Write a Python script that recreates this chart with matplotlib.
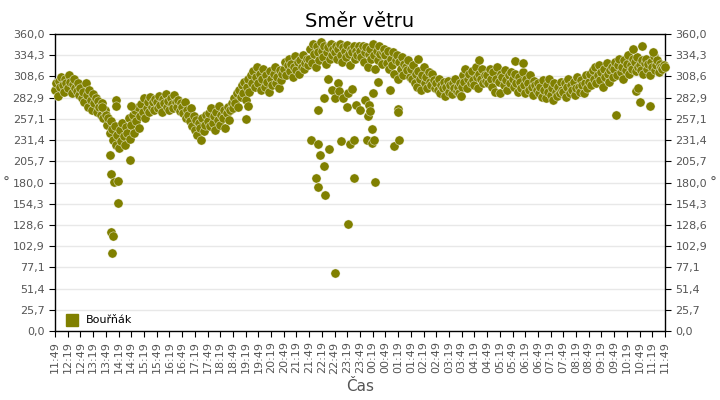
import numpy as np
import matplotlib
matplotlib.use('Agg')
import matplotlib.pyplot as plt
from matplotlib.lines import Line2D

# start 11:49, krok 3 minuty, kazdy radek = jedna hodina
start_h, start_m = 11, 49
step_min = 3
smer = [
    292, 300, 285, 303, 296, 308, 298, 290, 305, 300, 294, 310, 302, 288, 299, 306, 295, 291, 300, 286,
    295, 283, 290, 278, 300, 286, 272, 292, 280, 268, 287, 276, 282, 266, 279, 271, 262, 276, 258, 268,
    262, 250, 258, 240, 255, 245, 232, 248, 225, 238, 222, 244, 230, 252, 236, 226, 247, 240, 258, 233,
    250, 262, 240, 268, 255, 272, 246, 260, 275, 265, 282, 258, 270, 278, 266, 284, 272, 277, 268, 281,
    278, 270, 285, 274, 266, 281, 276, 287, 271, 279, 268, 283, 275, 270, 286, 278, 272, 280, 267, 276,
    272, 264, 277, 258, 268, 262, 255, 270, 248, 260, 244, 256, 238, 252, 246, 232, 258, 242, 250, 262,
    255, 264, 248, 270, 252, 260, 244, 266, 256, 273, 250, 262, 258, 268, 246, 264, 272, 256, 268, 276,
    270, 282, 276, 288, 272, 292, 284, 298, 288, 302, 280, 296, 306, 290, 310, 300, 315, 296, 308, 320,
    300, 312, 292, 306, 318, 296, 310, 302, 290, 315, 305, 298, 312, 320, 300, 308, 295, 316, 304, 311,
    318, 326, 310, 322, 330, 315, 324, 308, 320, 333, 316, 326, 312, 328, 320, 335, 318, 325, 330, 322,
    330, 342, 325, 348, 336, 320, 345, 338, 328, 350, 340, 332, 346, 324, 338, 344, 330, 348, 335, 342,
    338, 345, 330, 342, 348, 335, 326, 344, 340, 332, 347, 336, 322, 342, 338, 345, 330, 340, 334, 346,
    340, 332, 346, 326, 338, 344, 320, 336, 342, 330, 348, 334, 318, 340, 328, 345, 336, 324, 338, 342,
    335, 325, 340, 318, 330, 322, 338, 312, 328, 334, 306, 326, 318, 332, 310, 324, 320, 316, 328, 308,
    318, 306, 322, 300, 312, 296, 315, 305, 292, 310, 320, 300, 308, 295, 314, 302, 298, 311, 304, 294,
    300, 292, 305, 288, 298, 295, 302, 285, 296, 303, 290, 298, 287, 300, 294, 305, 291, 296, 289, 301,
    296, 310, 302, 318, 294, 306, 312, 300, 315, 304, 298, 320, 308, 295, 312, 305, 318, 300, 310, 303,
    310, 300, 318, 306, 296, 314, 290, 305, 320, 302, 288, 312, 308, 298, 316, 304, 292, 310, 300, 314,
    306, 296, 312, 300, 290, 308, 302, 295, 314, 298, 288, 305, 300, 292, 310, 296, 286, 303, 298, 292,
    300, 288, 296, 284, 304, 292, 282, 298, 290, 306, 286, 294, 280, 300, 290, 285, 296, 288, 302, 292,
    290, 300, 284, 296, 306, 288, 298, 292, 302, 286, 294, 308, 296, 290, 304, 298, 288, 300, 310, 295,
    302, 312, 298, 316, 306, 320, 300, 310, 322, 304, 314, 296, 318, 308, 325, 312, 302, 316, 320, 308,
    318, 326, 310, 322, 330, 314, 320, 306, 328, 316, 324, 334, 312, 322, 318, 330, 326, 315, 332, 320,
    322, 316, 328, 312, 325, 330, 318, 324, 310, 326, 320, 333, 316, 322, 328, 314, 324, 320, 318, 322,
    320,
]

# odlehle hodnoty (minuty od startu, smer)
vykyvy_t = [132, 139, 149, 149, 132, 137, 135, 177, 144, 144, 111, 179, 130,
            451, 456,
            604, 621, 626, 635, 616, 621, 637, 647, 661, 675, 692, 696, 706, 706,
            737, 748, 748, 753, 755, 800, 812,
            621, 635, 644, 654, 661, 668, 670, 680, 689, 692, 701, 711, 720, 732,
            741, 739, 744, 751, 763, 791, 810, 810, 857,
            958, 1001, 1086, 1105,
            1324, 1372, 1376, 1381, 1405, 1386, 1365, 1412]
vykyvy_v = [190, 181, 182, 155, 120, 115, 94, 207, 280, 273, 272, 273, 213,
            257, 273,
            232, 227, 213, 200, 186, 175, 165, 220, 70, 230, 130, 227, 231, 186,
            231, 245, 228, 231, 181, 224, 231,
            268, 282, 305, 292, 282, 300, 291, 282, 271, 288, 293, 274, 268, 280,
            274, 260, 267, 288, 302, 292, 269, 265, 330,
            285, 328, 327, 325,
            262, 291, 294, 278, 273, 345, 342, 338]

barva = '#808000'
sedy = '#555555'

t = np.arange(len(smer)) * step_min
t_all = np.concatenate([t, vykyvy_t])
v_all = np.concatenate([smer, vykyvy_v])

fig = plt.figure(figsize=(7.2, 4), dpi=100)
ax = fig.add_axes([55 / 720, 1 - 331 / 400, 610 / 720, 297 / 400])

ax.scatter(t_all, v_all, s=44, c=barva, edgecolors='white', linewidths=0.3,
           zorder=3, clip_on=False)

ax.set_xlim(0, 1440)
ax.set_ylim(0, 360)

yt = [i * 360 / 14 for i in range(15)]
ylab = ['{:.1f}'.format(y).replace('.', ',') for y in yt]
ax.set_yticks(yt)
ax.set_yticklabels(ylab)
ax.grid(axis='y', color='#e8e8e8', linewidth=1, zorder=0)
ax.set_axisbelow(True)

xt = list(range(0, 1441, 30))
xlab = []
for m in xt:
    tot = start_h * 60 + start_m + m
    xlab.append('{:02d}:{:02d}'.format((tot // 60) % 24, tot % 60))
ax.set_xticks(xt)
ax.set_xticklabels(xlab, rotation=90)

ax.tick_params(axis='both', labelsize=8, labelcolor=sedy, direction='out', length=4, color='black')
ax.tick_params(axis='y', right=True, labelright=True)

for s in ax.spines.values():
    s.set_color('black')
    s.set_linewidth(1)

ax.set_title('Směr větru', fontsize=14, color='black', pad=5)
ax.set_xlabel('Čas', fontsize=11, color=sedy, labelpad=4)
fig.text(6 / 720, 1 - 183 / 400, '°', fontsize=10, color=sedy, ha='center', va='center')
fig.text(713 / 720, 1 - 183 / 400, '°', fontsize=10, color=sedy, ha='center', va='center')

h = Line2D([], [], marker='s', linestyle='none', color=barva, markersize=9)
ax.legend([h], ['Bouřňák'], loc='lower left', frameon=False, fontsize=8,
          handletextpad=0.3, borderaxespad=0.3, borderpad=0.2)

fig.savefig('out.png', dpi=100)
